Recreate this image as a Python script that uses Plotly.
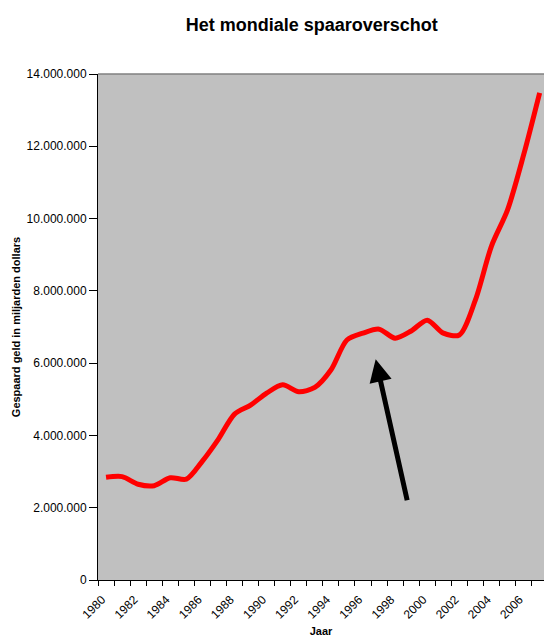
import plotly.graph_objects as go

years = list(range(1980, 2008))
savings = [2.84, 2.86, 2.65, 2.61, 2.83, 2.79, 3.29, 3.90, 4.59, 4.84,
           5.17, 5.40, 5.21, 5.33, 5.81, 6.64, 6.83, 6.94, 6.69, 6.89,
           7.19, 6.83, 6.78, 7.75, 9.24, 10.24, 11.76, 13.48]
savings = [v * 1_000_000 for v in savings]

y_ticks = list(range(0, 14_000_001, 2_000_000))
x_tick_years = [y for y in years if y % 2 == 0]

fig = go.Figure()
fig.add_trace(go.Scatter(
    x=years, y=savings, mode="lines",
    line=dict(color="#FF0000", width=5, shape="spline", smoothing=0.8),
    hoverinfo="skip", showlegend=False,
))

fig.add_annotation(
    x=1996.79, y=6_107_000, ax=1998.77, ay=2_167_000,
    xref="x", yref="y", axref="x", ayref="y",
    text="", showarrow=True, arrowhead=2, arrowsize=0.9, arrowwidth=5,
    arrowcolor="#000000", standoff=0,
)

fig.update_layout(
    width=544, height=637,
    margin=dict(l=98, r=0, t=74, b=57, autoexpand=False),
    paper_bgcolor="white", plot_bgcolor="#C0C0C0",
    separators=",.",
    font=dict(family="Arial, Liberation Sans, sans-serif", size=12, color="black"),
    title=dict(text="<b>Het mondiale spaaroverschot</b>", x=0.573, xanchor="center",
               y=0.961, yanchor="middle", font=dict(size=18)),
    showlegend=False,
)

fig.update_xaxes(
    range=[1979.5, 2007.27], automargin=False,
    tickmode="array", tickvals=[y - 0.25 for y in x_tick_years],
    ticktext=[str(y) for y in x_tick_years],
    tickangle=-45, ticks="", showgrid=False, zeroline=False,
    showline=True, linecolor="black", linewidth=1,
    ticklabelstandoff=7,
    minor=dict(tickmode="array", tickvals=[y - 0.5 for y in years] + [years[-1] + 0.5],
               ticks="outside", ticklen=5, tickcolor="black", showgrid=False),
    title=dict(text="<b>Jaar</b>", font=dict(size=11), standoff=17),
    tickfont=dict(size=12),
)
fig.update_yaxes(
    range=[0, 14_000_000], automargin=False,
    tickmode="array", tickvals=y_ticks, tickformat=",d",
    ticks="outside", ticklen=8, tickcolor="black",
    showgrid=False, zeroline=False,
    showline=True, linecolor="black", linewidth=1, mirror=False,
    title=dict(text="<b>Gespaard geld in miljarden dollars</b>", font=dict(size=11), standoff=3),
    tickfont=dict(size=12),
)

fig.add_shape(type="line", xref="paper", yref="paper", x0=0, x1=1, y0=1, y1=1,
              line=dict(color="#808080", width=1.5))

fig.write_html("out.html")
